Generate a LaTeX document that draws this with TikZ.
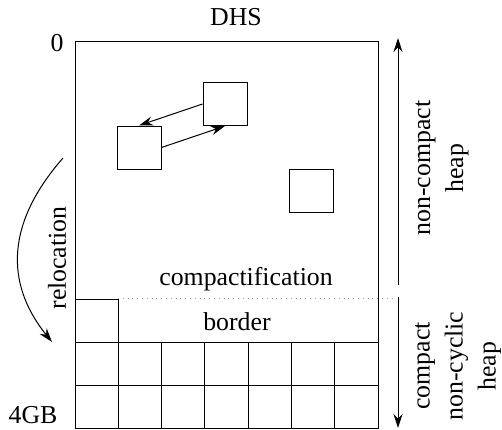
\documentclass[tikz,border=0pt]{standalone}
\usepackage{fontspec}
\setmainfont{Liberation Serif}
\usetikzlibrary{arrows.meta,positioning,calc}

\begin{document}
\begin{tikzpicture}[
  x=0.5pt, y=-0.5pt,
  font=\fontsize{12.9}{16.5}\selectfont,
  >={Stealth[length=7pt,width=4.5pt]},
  line width=0.5pt,
  blk/.style={
    draw,
    minimum width=22pt,
    minimum height=21.5pt,
    inner sep=0pt
  },
  flow/.style={->,line width=0.5pt},
  lbl/.style={inner sep=0pt, align=center},
  side/.style={lbl, rotate=90}
]
\useasboundingbox (0,0) rectangle (502,429);
% heap frame
\coordinate (nw) at (75,41);
\coordinate (se) at (378,428);
\draw (nw) rectangle (se);
% compact part
\draw (75,342) -- (378,342);
\draw (75,385) -- (378,385);
\foreach \i in {1,...,6}
  \draw ({75+\i*43.29},342) -- ({75+\i*43.29},428);
\draw (75,299) -- (118,299) -- (118,342);
\draw[gray!70, dotted, line width=0.4pt] (118,298) -- (395,298);
% objects in the non-compact part
\node[blk] (objA) at (225,104) {};
\node[blk] (objB) at (139,147.5) {};
\node[blk] (objC) at (311.5,190.5) {};
\draw[flow] (objA.west) -- (objB.north);
\draw[flow] (objB.east) -- (objA.south);
% relocation
\coordinate (relS) at (63,158);
\coordinate (relE) at (52,342);
\draw[flow] (relS) .. controls (0,230) and (10,290) .. (relE);
\node[side] (reloc) at (57,258) {relocation};
% heap extent
\coordinate (upS) at (398,285);
\coordinate (upE) at (398,38);
\coordinate (dnS) at (398,297);
\coordinate (dnE) at (398,428);
\draw[flow] (upS) -- (upE);
\draw[flow] (dnS) -- (dnE);
% labels
\node[lbl] (dhs) at (236,17) {DHS};
\node[lbl] (zero) at (57,43) {0};
\node[lbl] (fourgb) at (33,415) {4GB};
\node[lbl] (compact) at (246,279) {compactification};
\node[lbl] (border) at (237,322) {border};
\node[side] (ncheap) at (442,168) {non-compact\\heap};
\node[side] (cheap) at (458,366) {compact\\non-cyclic\\heap};
\end{tikzpicture}
\end{document}
